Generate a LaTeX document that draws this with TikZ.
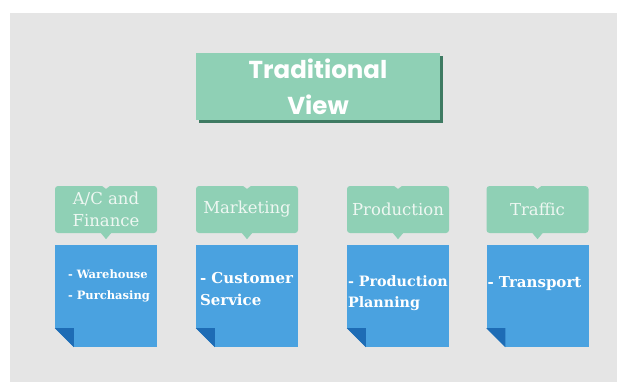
\documentclass[tikz,border=0pt]{standalone}
\usepackage{fontspec}
\setmainfont{DejaVu Serif}
\newfontfamily\titlefont{Poppins}
\usetikzlibrary{positioning,shadows}

\definecolor{bggray}{HTML}{E5E5E5}
\definecolor{mint}{HTML}{8FD0B5}
\definecolor{mintdark}{HTML}{3E7A62}
\definecolor{mintpale}{HTML}{EEF7F2}
\definecolor{sky}{HTML}{4AA2E0}
\definecolor{skydark}{HTML}{1E6CB5}

\begin{document}
\begin{tikzpicture}[x=1pt,y=-1pt,node distance=86.5pt,
  head/.style={rectangle,fill=mint,minimum width=244pt,minimum height=67pt,align=center,text=white,
    font=\titlefont\bfseries\fontsize{24.5}{36}\selectfont,
    drop shadow={shadow xshift=3pt,shadow yshift=-3pt,fill=mintdark,opacity=1}},
  dept/.style={rectangle,rounded corners=3pt,fill=mint,minimum width=102pt,minimum height=47pt,
    inner sep=1pt,align=center,text=mintpale,font=\fontsize{16.5}{22}\selectfont},
  duty/.style={rectangle,fill=sky,minimum width=102pt,minimum height=102pt},
  dutytext/.style={anchor=north west,inner sep=0pt,align=left,text=white,
    font=\bfseries\fontsize{15}{22}\selectfont}]
\path[use as bounding box,fill=white] (0,0) rectangle (617,382);
\fill[bggray] (10,13) rectangle (617,382);

\node[head] (trad) at (318,86.5) {Traditional\\View};

\node[dept] (acc) at (106,209.5) {A/C and\\Finance};
\node[dept] (mkt) at (247,209.5) {Marketing};
\node[dept] (prod) at (398,209.5) {Production};
\node[dept] (traf) at (537.5,209.5) {Traffic};

\node[duty](accd)[below of=acc]{};
\node[duty](mktd)[below of=mkt]{};
\node[duty](prodd)[below of=prod]{};
\node[duty](trafd)[below of=traf]{};

\node[dutytext,font=\bfseries\fontsize{11.5}{21}\selectfont] (acct) at ([xshift=13pt,yshift=-25pt]accd.north west) {- Warehouse\\- Purchasing};
\node[dutytext] (mktt) at ([xshift=4pt,yshift=-27pt]mktd.north west) {- Customer\\Service};
\node[dutytext,font=\bfseries\fontsize{14.3}{21}\selectfont] (prodt) at ([xshift=1pt,yshift=-31pt]prodd.north west) {- Production\\Planning};
\node[dutytext] (traft) at ([xshift=1pt,yshift=-32pt]trafd.north west) {- Transport};

% notch on top, tail below
\foreach \n in {acc,mkt,prod,traf}{
  \fill[mint] ([xshift=-5pt]\n.south) -- ([yshift=-6pt]\n.south) -- ([xshift=5pt]\n.south) -- cycle;
  \fill[bggray] ([xshift=-4pt]\n.north) -- ([yshift=-3pt]\n.north) -- ([xshift=4pt]\n.north) -- cycle;
}
% folded corners
\foreach \n in {accd,mktd,prodd,trafd}{
  \fill[bggray] (\n.south west) -- ([yshift=19pt]\n.south west) -- ([xshift=19pt]\n.south west) -- cycle;
  \fill[skydark] ([yshift=19pt]\n.south west) -- ([xshift=19pt,yshift=19pt]\n.south west) -- ([xshift=19pt]\n.south west) -- cycle;
}
\end{tikzpicture}
\end{document}
